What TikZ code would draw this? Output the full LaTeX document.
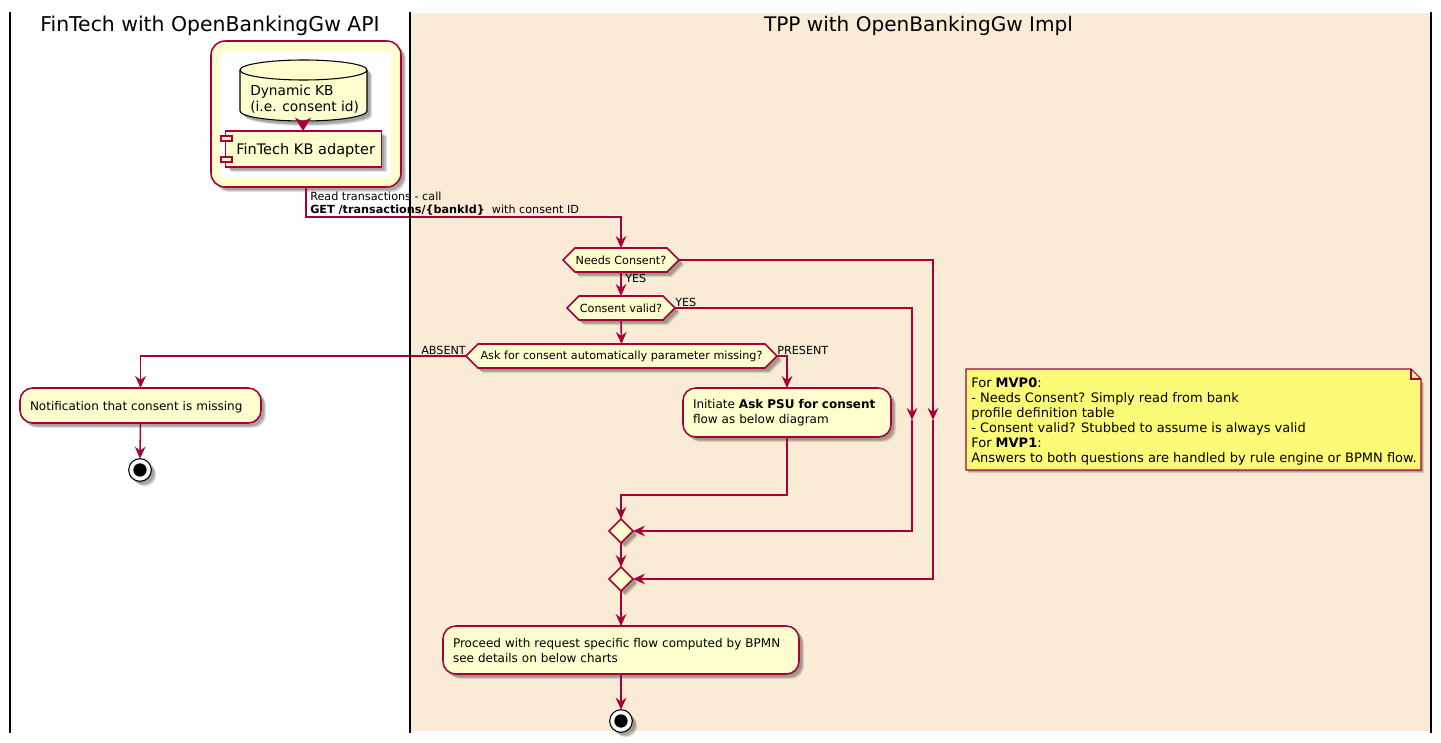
\documentclass[tikz,border=0pt]{standalone}
\usepackage{fontspec}
\setmainfont{DejaVu Sans}
\usetikzlibrary{arrows.meta,shapes.geometric,shadows,calc}
\definecolor{umlred}{HTML}{A80036}
\definecolor{umlfill}{HTML}{FEFECE}
\definecolor{umlnote}{HTML}{FBFB77}
\definecolor{lanebg}{HTML}{FAEBD7}
\tikzset{
  softshadow/.style={
    drop shadow={shadow xshift=2.2pt,shadow yshift=-2.2pt,fill=black,opacity=.12},
    drop shadow={shadow xshift=3pt,shadow yshift=-3pt,fill=black,opacity=.18},
    drop shadow={shadow xshift=3.8pt,shadow yshift=-3.8pt,fill=black,opacity=.10}},
  smalltext/.style={font=\fontsize{8.4}{11.2}\selectfont,text=black},
  acttext/.style={font=\fontsize{9}{11.2}\selectfont,text=black},
  notetext/.style={font=\fontsize{9.75}{11.25}\selectfont,text=black},
  labeltext/.style={smalltext,inner sep=0pt,anchor=base west,align=left},
  flow/.style={draw=umlred,line width=1.15pt,-{Stealth[length=9pt,width=8pt,inset=3pt]}},
  activity/.style={draw=umlred,fill=umlfill,line width=1.15pt,rounded corners=9.5pt,softshadow,acttext,
    align=left,inner xsep=7.5pt,inner ysep=0pt,outer sep=0pt},
  hexshape/.style={draw=umlred,fill=umlfill,line width=1.15pt,softshadow},
  hexlabel/.style={smalltext,inner sep=0pt,outer sep=0pt,minimum height=18pt},
  mergenode/.style={diamond,aspect=1,draw=umlred,fill=umlfill,line width=1.15pt,softshadow,minimum width=18pt,minimum height=18pt,inner sep=0pt,outer sep=0pt},
  stopnode/.style={circle,draw=black,fill=white,line width=.8pt,softshadow,minimum size=17pt,inner sep=0pt,outer sep=0pt},
  stopdot/.style={circle,fill=black,minimum size=10pt,inner sep=0pt},
  lane/.style={draw=black,line width=1.6pt},
  title/.style={inner sep=0pt}
}
% name, left tip x, right tip x, centre y, text
\newcommand{\hexnode}[5]{%
  \draw[hexshape] (#2,#4) -- (#2+12,#4-12) -- (#3-12,#4-12) -- (#3,#4) -- (#3-12,#4+12) -- (#2+12,#4+12) -- cycle;
  \node[hexlabel,minimum width={(#3-#2)*0.75pt}] (#1) at ({(#2+#3)/2},#4) {#5};
}
\begin{document}
\begin{tikzpicture}[x=0.75pt,y=-0.75pt]
\useasboundingbox (0,0) rectangle (1441,742);
\fill[white] (0,0) rectangle (1441,742);
\fill[lanebg] (411,13) rectangle (1431,731);
\node[title,font=\fontsize{15.3}{18}\selectfont] (t1) at (210,26) {FinTech with OpenBankingGw API};
\node[title,font=\fontsize{15.05}{18}\selectfont] (t2) at (918.5,26) {TPP with OpenBankingGw Impl};

% partition group
\node[draw=umlred,fill=umlfill,line width=1.15pt,rounded corners=10.5pt,softshadow,minimum width=142.5pt,minimum height=109.5pt,inner sep=0pt,outer sep=0pt] (group) at (306,114) {};
\node[fill=white,minimum width=128.25pt,minimum height=93.75pt,inner sep=0pt] (inner) at (305.5,114.5) {};

% database
\draw[black,fill=umlfill,line width=.8pt,softshadow] (240,70) arc[start angle=180,end angle=360,x radius=63.5,y radius=10] -- (367,111) arc[start angle=0,end angle=180,x radius=63.5,y radius=10] -- cycle;
\draw[black,line width=.8pt] (240,70) arc[start angle=180,end angle=0,x radius=63.5,y radius=10];
\node[font=\fontsize{10.3}{12}\selectfont,inner sep=0pt,align=left,anchor=west] (db) at (250,99.5) {Dynamic KB\\(i.e. consent id)};
\coordinate (dbbottom) at (303,121);

% component
\node[draw=umlred,fill=umlfill,line width=1.15pt,softshadow,minimum width=117pt,minimum height=27pt,inner sep=0pt,outer sep=0pt] (comp) at (303.5,149) {};
\node[font=\fontsize{10.9}{12}\selectfont,inner sep=0pt,anchor=west] (comptext) at (236,150) {FinTech KB adapter};
\draw[umlred,fill=umlfill,line width=1.15pt] (221,136) rectangle (232,141);
\draw[umlred,fill=umlfill,line width=1.15pt] (221,157) rectangle (232,162);
\draw[umlred,line width=1.15pt,-{Stealth[length=10pt,width=12pt,inset=3pt]}] (dbbottom) -- (dbbottom |- comp.north);

% decisions
\hexnode{needs}{563}{679}{260}{Needs Consent?}
\hexnode{valid}{567}{675}{308}{Consent valid?}
\hexnode{ask}{466}{777}{356}{Ask for consent automatically parameter missing?}

% activities
\node[activity,minimum height=36.75pt,text width=141pt] (initiate) at (787,412.5) {\rule{0pt}{7.6pt}Initiate \textbf{Ask PSU for consent}\\flow as below diagram};
\node[activity,minimum height=26.25pt,text width=165.75pt] (notify) at (140.5,405.5) {\rule{0pt}{9pt}Notification that consent is missing};
\node[activity,minimum height=36pt,text width=252pt] (proceed) at (621,650) {\rule{0pt}{7.6pt}Proceed with request specific flow computed by BPMN\\see details on below charts};

% merges and stops
\node[mergenode] (m1) at (621,531) {};
\node[mergenode] (m2) at (621,579) {};
\node[stopnode] (stop1) at (140,470) {};
\node[stopdot] (stop1d) at (140,470) {};
\node[stopnode] (stop2) at (621,721) {};
\node[stopdot] (stop2d) at (621,721) {};

% note
\fill[black,opacity=.12] (969,372) -- (1412,372) -- (1424,384) -- (1424,473) -- (969,473) -- cycle;
\fill[black,opacity=.2] (968,371) -- (1411,371) -- (1423,383) -- (1423,472) -- (968,472) -- cycle;
\draw[umlred,fill=umlnote,line width=.8pt] (966,369) -- (1411,369) -- (1421,379) -- (1421,470) -- (966,470) -- cycle;
\draw[umlred,line width=.8pt] (1411,369) -- (1411,379) -- (1421,379);
\node[notetext,inner sep=0pt,align=left,anchor=north west] (note) at (971,378) {For \textbf{MVP0}:\\- Needs Consent? Simply read from bank\\profile definition table\\- Consent valid? Stubbed to assume is always valid\\For \textbf{MVP1}:\\Answers to both questions are handled by rule engine or BPMN flow.};

% connectors
\draw[flow] (306,187) |- (621,217) -- (needs.north);
\draw[flow] (needs.south) -- (valid.north);
\draw[flow] (valid.south) -- (ask.north);
\draw[flow] (ask.west) -| (notify.north);
\draw[flow] (notify.south) -- (stop1.north);
\draw[flow] (ask.east) -| (initiate.north);
\draw[flow] (initiate.south) |- (621,495) -- (m1.north);
\draw[flow] (m1.south) -- (m2.north);
\draw[flow] (m2.south) -- (proceed.north);
\draw[flow] (proceed.south) -- (stop2.north);
\coordinate (vr) at (912,420);
\coordinate (nr) at (933,420);
\draw[flow] (valid.east) -| (vr);
\draw[flow] (vr) |- (m1.east);
\draw[flow] (needs.east) -| (nr);
\draw[flow] (nr) |- (m2.east);

% labels
\node[labeltext] (l1) at (310,200) {Read transactions - call};
\node[labeltext] (l2) at (310,213) {\textbf{GET /transactions/\{bankId\}}\ \ with consent ID};
\node[labeltext] (l3) at (625,282) {YES};
\node[labeltext] (l4) at (675,306) {YES};
\node[labeltext] (l5) at (421,354) {ABSENT};
\node[labeltext] (l6) at (777,354) {PRESENT};

% swimlane lines
\draw[lane] (10,12) -- (10,732.5);
\draw[lane] (410,12) -- (410,732.5);
\draw[lane] (1431,12) -- (1431,732.5);
\end{tikzpicture}
\end{document}
